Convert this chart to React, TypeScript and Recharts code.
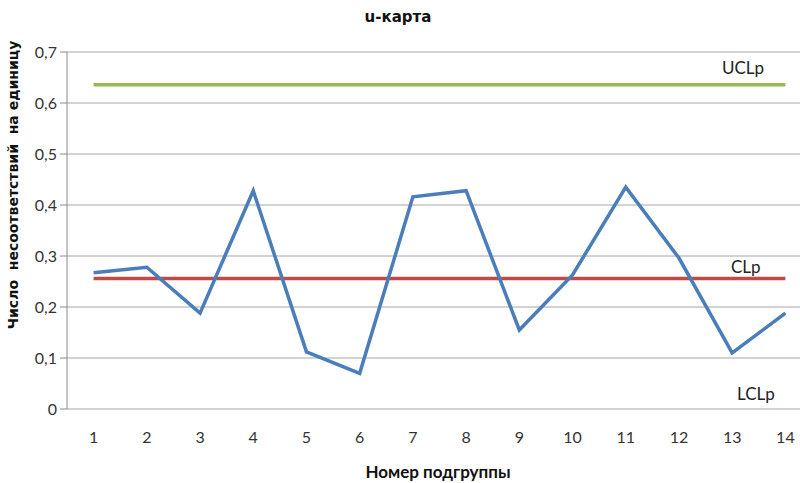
import { ComposedChart, Line, XAxis, YAxis, CartesianGrid } from 'recharts'

const groups = [1, 2, 3, 4, 5, 6, 7, 8, 9, 10, 11, 12, 13, 14]
const uValues = [0.267, 0.278, 0.188, 0.428, 0.112, 0.07, 0.416, 0.428, 0.155, 0.263, 0.435, 0.296, 0.11, 0.188]
const clValues = [0.256, 0.256, 0.256, 0.256, 0.256, 0.256, 0.256, 0.256, 0.256, 0.256, 0.256, 0.256, 0.256, 0.256]
const uclValues = [0.636, 0.636, 0.636, 0.636, 0.636, 0.636, 0.636, 0.636, 0.636, 0.636, 0.636, 0.636, 0.636, 0.636]
const yTicks = [0, 0.1, 0.2, 0.3, 0.4, 0.5, 0.6, 0.7]
const boundaryTicks = [0.5, 1.5, 2.5, 3.5, 4.5, 5.5, 6.5, 7.5, 8.5, 9.5, 10.5, 11.5, 12.5, 13.5, 14.5]

const data = groups.map((n, i) => ({ n, u: uValues[i], cl: clValues[i], ucl: uclValues[i] }))

const font = 'Lato, "Open Sans", sans-serif'
const wideFont = '"DejaVu Sans", Verdana, sans-serif'
const textColor = '#333'

const note = (text: string, left: number, top: number) => (
  <div style={{ position: 'absolute', left, top, fontFamily: font, fontSize: 17, lineHeight: '20px', color: '#222', whiteSpace: 'nowrap' }}>
    {text}
  </div>
)

export default function App() {
  return (
    <div style={{ position: 'fixed', left: 0, top: 0, width: 800, height: 483, overflow: 'hidden', background: '#fff' }}>
      <ComposedChart width={830} height={483} data={data} margin={{ top: 52, right: 18, left: 0, bottom: 0 }}>
        <CartesianGrid vertical={false} stroke="#a6a6a6" />
        <XAxis
          dataKey="n"
          type="number"
          domain={[0.5, 14.5]}
          ticks={groups}
          height={74}
          axisLine={false}
          tickLine={false}
          tickSize={0}
          tickMargin={23}
          interval={0}
          allowDataOverflow
          tick={{ fill: textColor, fontSize: 16, fontFamily: font }}
        />
        <XAxis
          xAxisId="b"
          dataKey="n"
          type="number"
          domain={[0.5, 14.5]}
          ticks={boundaryTicks}
          height={0}
          interval={0}
          allowDataOverflow
          stroke="#8a8a8a"
          tickSize={5}
          tickFormatter={() => ''}
        />
        <YAxis
          domain={[0, 0.7]}
          ticks={yTicks}
          width={67}
          interval={0}
          stroke="#8a8a8a"
          tickSize={7}
          tickMargin={3}
          tickFormatter={(v: number) => String(Math.round(v * 10) / 10).replace('.', ',')}
          tick={{ fill: textColor, fontSize: 16, fontFamily: font }}
        />
        <Line dataKey="ucl" stroke="#98b954" strokeWidth={3.5} dot={false} isAnimationActive={false} />
        <Line dataKey="cl" stroke="#be4b48" strokeWidth={3.5} dot={false} isAnimationActive={false} />
        <Line dataKey="u" stroke="#4a7ebb" strokeWidth={3.5} dot={false} isAnimationActive={false} />
      </ComposedChart>
      <div style={{ position: 'absolute', left: 298, width: 200, top: 7, textAlign: 'center', fontFamily: wideFont, fontSize: 15, lineHeight: '20px', fontWeight: 'bold', color: '#111' }}>
        u-карта
      </div>
      <div style={{ position: 'absolute', left: 338, width: 200, top: 462, textAlign: 'center', fontFamily: font, fontSize: 17, lineHeight: '20px', fontWeight: 'bold', color: '#111' }}>
        Номер подгруппы
      </div>
      <div
        style={{
          position: 'absolute', left: 13, top: 185, width: 340, marginLeft: -170, marginTop: -10, height: 20, lineHeight: '20px',
          transform: 'rotate(-90deg)', textAlign: 'center', fontFamily: wideFont, fontSize: 14, fontWeight: 'bold',
          color: '#111', whiteSpace: 'pre',
        }}
      >
        {'Число  несоответствий  на единицу'}
      </div>
      {note('UCLp', 722, 58)}
      {note('CLp', 731, 257)}
      {note('LCLp', 737, 384)}
    </div>
  )
}
